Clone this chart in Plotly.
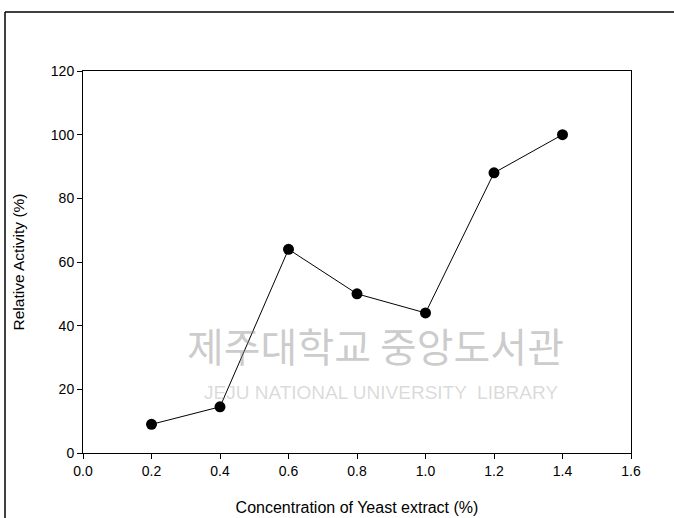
import plotly.graph_objects as go

concentration = [0.2, 0.4, 0.6, 0.8, 1.0, 1.2, 1.4]
relative_activity = [9, 14.5, 64, 50, 44, 88, 100]

x_ticks = [0.0, 0.2, 0.4, 0.6, 0.8, 1.0, 1.2, 1.4, 1.6]
y_ticks = [0, 20, 40, 60, 80, 100, 120]

fig = go.Figure()
fig.add_trace(go.Scatter(
    x=concentration, y=relative_activity, mode="lines+markers",
    line=dict(color="black", width=1),
    marker=dict(color="black", size=11),
    showlegend=False,
))

W, H = 674, 518
L, R, T, B = 83, 43, 71, 65
pw, ph = W - L - R, H - T - B
fig.update_layout(
    width=W, height=H,
    margin=dict(l=L, r=R, t=T, b=B),
    paper_bgcolor="white", plot_bgcolor="white",
    font=dict(family="Liberation Sans, Arial, sans-serif", color="black", size=14),
)
fig.update_xaxes(
    range=[0, 1.6], tickvals=x_ticks, ticktext=[f"{v:.1f}" for v in x_ticks],
    ticks="outside", ticklen=5, tickcolor="black", showgrid=False, zeroline=False,
    showline=True, linecolor="black", linewidth=1, mirror=True, automargin=False,
    title=dict(text="Concentration of Yeast extract (%)", font=dict(size=16), standoff=24),
)
fig.update_yaxes(
    range=[0, 120], tickvals=y_ticks,
    ticks="outside", ticklen=5, tickcolor="black", showgrid=False, zeroline=False,
    showline=True, linecolor="black", linewidth=1, mirror=True, automargin=False,
    title=dict(text="Relative Activity (%)", font=dict(size=15.5), standoff=22),
)

# outer frame lines
fig.add_shape(type="line", xref="paper", yref="paper",
              x0=(5 - L) / pw, x1=1 + R / pw,
              y0=1 + (T - 12) / ph, y1=1 + (T - 12) / ph,
              line=dict(color="black", width=1.5))
fig.add_shape(type="line", xref="paper", yref="paper",
              x0=(5 - L) / pw, x1=(5 - L) / pw,
              y0=-B / ph, y1=1 + (T - 12) / ph,
              line=dict(color="black", width=1.5))

# watermark
fig.add_annotation(text="제주대학교 중앙도서관", x=0.855, y=34, xref="x", yref="y",
                   showarrow=False, font=dict(size=40, color="rgba(140,140,140,0.45)",
                                              family="Noto Sans CJK KR"))
fig.add_annotation(text="JEJU NATIONAL UNIVERSITY  LIBRARY", x=0.87, y=19, xref="x", yref="y",
                   showarrow=False, font=dict(size=19, color="rgba(150,150,150,0.35)",
                                             family="Liberation Sans"))

fig.write_html("out.html", config={"displayModeBar": False},
               post_script="document.body.style.margin='0';document.body.style.overflow='hidden';")
